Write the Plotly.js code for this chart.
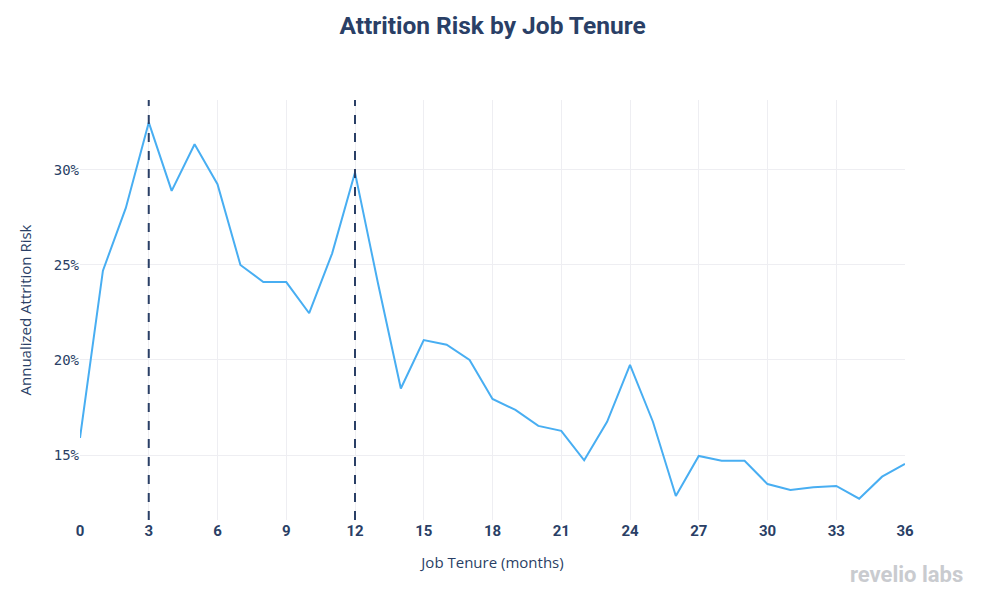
<!DOCTYPE html>
<html>
<head>
<meta charset="utf-8">
<script src="https://cdn.plot.ly/plotly-3.0.1.min.js"></script>
<style>html,body{margin:0;padding:0;background:#fff;}#chart{width:985px;height:600px;}</style>
</head>
<body>
<div id="chart"></div>
<script>
const tenureMonths = [0,1,2,3,4,5,6,7,8,9,10,11,12,13,14,15,16,17,18,19,20,21,22,23,24,25,26,27,28,29,30,31,32,33,34,35,36];
const attritionRisk = [0.159,0.247,0.280,0.325,0.289,0.3135,0.2925,0.250,0.241,0.241,0.2246,0.256,0.2986,0.2405,0.185,0.2105,0.208,0.200,0.1795,0.1737,0.1653,0.1627,0.1472,0.1675,0.1974,0.1675,0.1284,0.1495,0.1470,0.1470,0.1347,0.1316,0.1330,0.1337,0.1270,0.1386,0.1453];
const markerMonths = [3, 12];
const xTicks = [0,3,6,9,12,15,18,21,24,27,30,33,36];
const yTicks = [0.15,0.20,0.25,0.30];

const navy = '#2a3f66';
const shapes = markerMonths.map(m => ({
  type:'line', xref:'x', yref:'paper', x0:m, x1:m, y0:0, y1:1,
  line:{color:navy, width:2, dash:'dash'}
}));

const data = [{
  x: tenureMonths, y: attritionRisk, type:'scatter', mode:'lines',
  line:{color:'#48aef2', width:2}, hoverinfo:'x+y'
}];

const layout = {
  width:985, height:600,
  margin:{l:80, r:80, t:100, b:80},
  paper_bgcolor:'#fff', plot_bgcolor:'#fff',
  showlegend:false,
  title:{text:'Attrition Risk by Job Tenure', x:0.5, xanchor:'center', y:0.958, yanchor:'middle',
    font:{family:'Roboto, sans-serif', size:24.5, color:navy, weight:'bold'}},
  xaxis:{
    range:[0,36], tickvals:xTicks, ticktext:xTicks.map(String),
    showgrid:true, gridcolor:'#eeeef2', zeroline:false, showline:false, ticks:'',
    tickfont:{family:'Roboto, sans-serif', size:15, color:navy, weight:'bold'},
    title:{text:'Job Tenure (months)', standoff:18, font:{family:'Open Sans, sans-serif', size:15, color:navy}}
  },
  yaxis:{
    range:[0.1158,0.3368], tickvals:yTicks, tickformat:'.0%',
    showgrid:true, gridcolor:'#eeeef2', zeroline:false, showline:false, ticks:'',
    tickfont:{family:'DejaVu Sans Mono, monospace', size:14, color:navy},
    title:{text:'Annualized Attrition Risk', standoff:18, font:{family:'Open Sans, sans-serif', size:15, color:navy}}
  },
  shapes: shapes,
  annotations:[{
    text:'revelio labs', xref:'paper', yref:'paper', x:1.0727, y:-0.13, xanchor:'right', yanchor:'middle',
    showarrow:false, font:{family:'Roboto, sans-serif', size:22, color:'#c9cbcf', weight:'bold'}
  }]
};

Plotly.newPlot('chart', data, layout, {displayModeBar:false});
</script>
</body>
</html>
